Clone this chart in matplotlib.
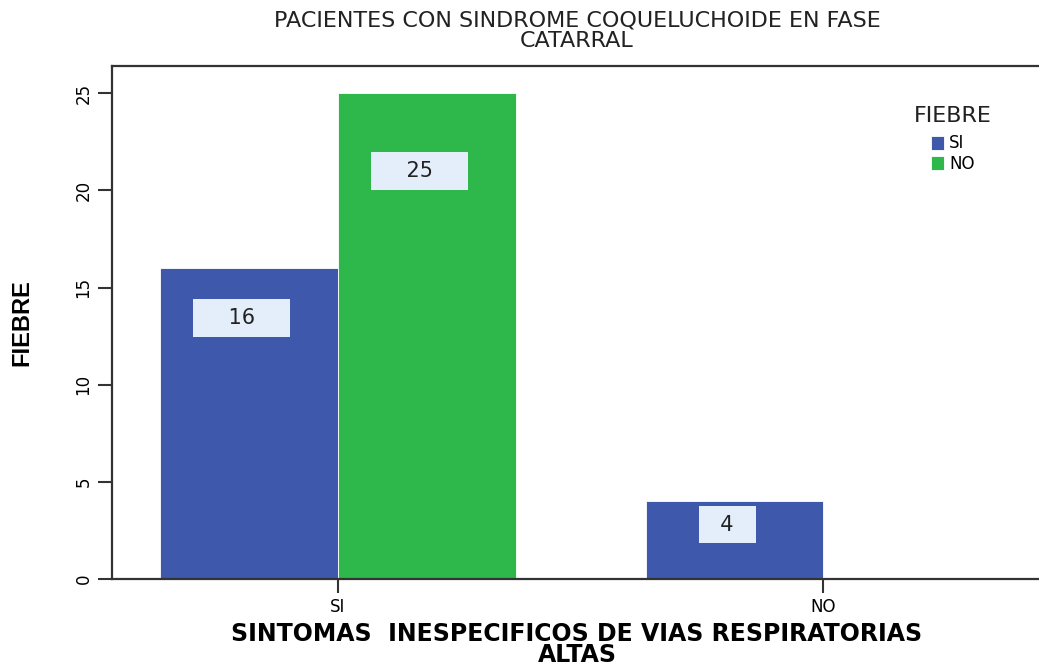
import matplotlib.pyplot as plt
from matplotlib.font_manager import FontProperties
import numpy as np

# Data
categories = ['SI', 'NO']
fiebre_si = [16, 4]
fiebre_no = [25, 0]
series_labels = ['SI', 'NO']

plt.rcParams['font.family'] = ['DejaVu Sans']

BLUE = '#3e58ac'
GREEN = '#2eb84c'
BOX = '#e3eefa'

fig = plt.figure(figsize=(10.39, 6.70), dpi=100)
ax = fig.add_axes([0.1078, 0.1358, 0.895, 0.7657])

x = np.arange(len(categories))
w = 0.366
bars_si = ax.bar(x - w / 2, fiebre_si, w, color=BLUE, label=series_labels[0],
                 edgecolor='white', linewidth=0.6)
bars_no = ax.bar(x + w / 2, fiebre_no, w, color=GREEN, label=series_labels[1],
                 edgecolor='white', linewidth=0.6)

# value boxes inside the bars
for bars in (bars_si, bars_no):
    for b in bars:
        v = b.get_height()
        if v <= 0:
            continue
        pad = ' ' * (4 if v >= 10 else 2)
        ypos = min(v * 0.84, v - 1.2)
        ax.text(b.get_x() + b.get_width() / 2 - 0.015, ypos, pad + str(int(v)) + pad,
                ha='center', va='center', fontsize=15, color='#222222',
                bbox=dict(boxstyle='square,pad=0.42', fc=BOX, ec='none'))

ax.set_xlim(-0.465, 1.45)
ax.set_ylim(0, 26.4)
ax.set_xticks(x)
ax.set_xticklabels(categories, fontsize=12)
ax.set_yticks([0, 5, 10, 15, 20, 25])
ax.set_yticklabels(['0', '5', '10', '15', '20', '25'], fontsize=12, rotation=90, va='center')
ax.tick_params(axis='both', direction='out', length=10, width=1.5, color='#333333', pad=4)

for s in ax.spines.values():
    s.set_color('#333333')
    s.set_linewidth(1.6)

ax.set_title('PACIENTES CON SINDROME COQUELUCHOIDE EN FASE\nCATARRAL',
             fontsize=16, linespacing=1.0, pad=14, color='#222222')
ax.set_xlabel('SINTOMAS  INESPECIFICOS DE VIAS RESPIRATORIAS\nALTAS',
              fontsize=17, fontweight='bold', linespacing=0.85, labelpad=4)
ylab_font = FontProperties(family='Liberation Sans', weight='bold', size=17)
ax.set_ylabel('FIEBRE', fontproperties=ylab_font, labelpad=30)

leg = ax.legend(title='FIEBRE', loc='upper center', bbox_to_anchor=(0.904, 0.935),
                frameon=False, fontsize=12, title_fontsize=16,
                handlelength=0.8, handleheight=0.9, handletextpad=0.3,
                labelspacing=0.15, borderaxespad=0)
leg.get_title().set_color('#222222')
leg._legend_box.sep = 6

fig.savefig('out.png', dpi=100)
